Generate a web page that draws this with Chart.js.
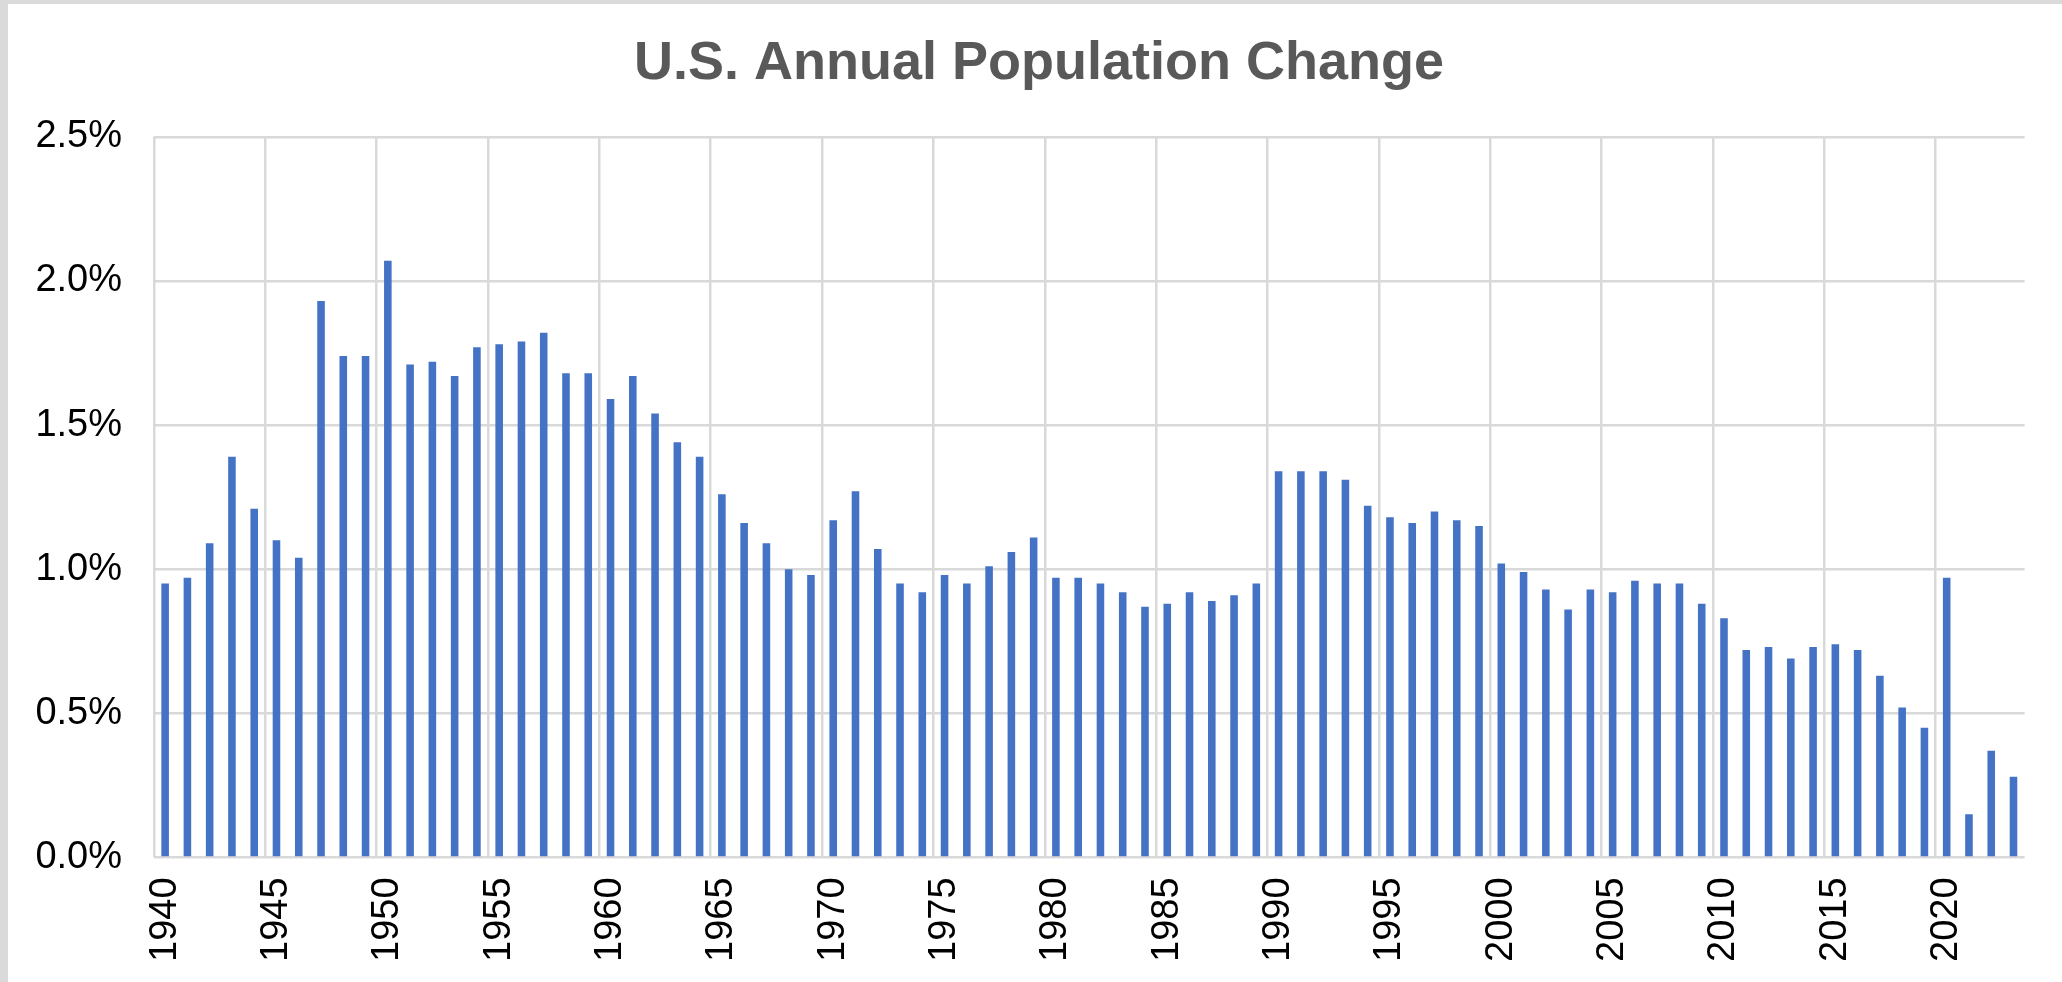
<!DOCTYPE html>
<html lang="en">
<head>
    <meta charset="UTF-8">
    <title>U.S. Annual Population Change</title>
    <script src="https://cdn.jsdelivr.net/npm/chart.js"></script>
    <style>
        body {
            margin: 0;
            background: #fff;
        }
        #marco {
            position: relative;
            width: 2062px;
            height: 982px;
        }
        #borde-sup {
            position: absolute; left: 0; top: 0;
            width: 2062px; height: 4px;
            background: #dadada;
        }
        #borde-izq {
            position: absolute; left: 0; top: 0;
            width: 8px; height: 982px;
            background: #dadada;
        }
    </style>
</head>
<body>
    <div id="marco">
        <canvas id="grafica"></canvas>
        <div id="borde-sup"></div>
        <div id="borde-izq"></div>
    </div>

    <script>
        // years 1940..2023
        const anios = [];
        for (let a = 1940; a <= 2023; a++) anios.push(String(a));

        // annual change, percent
        const cambio = [
            0.95, 0.97, 1.09, 1.39, 1.21, 1.10, 1.04, 1.93, 1.74, 1.74,
            2.07, 1.71, 1.72, 1.67, 1.77, 1.78, 1.79, 1.82, 1.68, 1.68,
            1.59, 1.67, 1.54, 1.44, 1.39, 1.26, 1.16, 1.09, 1.00, 0.98,
            1.17, 1.27, 1.07, 0.95, 0.92, 0.98, 0.95, 1.01, 1.06, 1.11,
            0.97, 0.97, 0.95, 0.92, 0.87, 0.88, 0.92, 0.89, 0.91, 0.95,
            1.34, 1.34, 1.34, 1.31, 1.22, 1.18, 1.16, 1.20, 1.17, 1.15,
            1.02, 0.99, 0.93, 0.86, 0.93, 0.92, 0.96, 0.95, 0.95, 0.88,
            0.83, 0.72, 0.73, 0.69, 0.73, 0.74, 0.72, 0.63, 0.52, 0.45,
            0.97, 0.15, 0.37, 0.28
        ];

        const ejeY = { min: 0, max: 2.5, paso: 0.5 };

        const gris = "#d9d9d9";
        const letra = "'Liberation Sans', Arial, sans-serif";

        new Chart(document.getElementById("grafica"), {
            type: "bar",
            data: {
                labels: anios,
                datasets: [{
                    label: "Population change",
                    data: cambio,
                    backgroundColor: "#4472c4",
                    borderWidth: 0,
                    barPercentage: 0.34,
                    categoryPercentage: 1
                }]
            },
            options: {
                responsive: true,
                maintainAspectRatio: false,
                animation: false,
                layout: { padding: { left: 16, right: 0, top: 0, bottom: 0 } },
                plugins: {
                    legend: { display: false },
                    tooltip: { enabled: false },
                    title: {
                        display: true,
                        text: "U.S. Annual Population Change",
                        color: "#595959",
                        font: { family: letra, size: 54, weight: "bold" },
                        padding: { top: 32, bottom: 40 }
                    }
                },
                scales: {
                    x: {
                        grid: {
                            offset: true,
                            drawTicks: false,
                            lineWidth: 2.5,
                            color: ctx => (ctx.index !== undefined && ctx.index % 5 === 0) ? gris : "rgba(0,0,0,0)"
                        },
                        border: { display: false },
                        ticks: {
                            autoSkip: false,
                            minRotation: 90,
                            maxRotation: 90,
                            padding: 20,
                            color: "#000",
                            font: { family: letra, size: 38, lineHeight: 0.75 },
                            callback: (v, i) => i % 5 === 0 ? anios[i] : ""
                        }
                    },
                    y: {
                        min: ejeY.min,
                        max: ejeY.max,
                        grid: { drawTicks: false, lineWidth: 2.5, color: gris },
                        border: { display: false },
                        afterFit: escala => { escala.width = 138; },
                        ticks: {
                            stepSize: ejeY.paso,
                            padding: 32,
                            color: "#000",
                            font: { family: letra, size: 38 },
                            callback: v => v.toFixed(1) + "%"
                        }
                    }
                }
            }
        });
    </script>
</body>
</html>
